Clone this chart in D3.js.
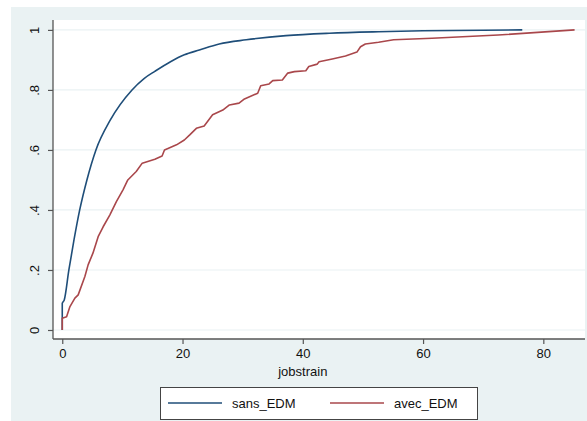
<!DOCTYPE html>
<html>
<head>
<meta charset="utf-8">
<script src="https://cdn.jsdelivr.net/npm/d3@7"></script>
<style>
  body { margin: 0; background: #fff; }
  svg { display: block; font-family: "Liberation Sans", Arial, sans-serif; }
</style>
</head>
<body>
<svg></svg>
<script>
// cumulative distribution of jobstrain
const sansX = [0, 0, 0.33, 1.1, 1.95, 2.9, 4.1, 5.6, 8.0, 11.6, 13.6, 15.4, 18.0, 20.3, 22.8, 26.1, 30.6, 37.2, 44.4, 52.6, 60, 70, 76.5];
const sansY = [0, 0.089, 0.10, 0.2, 0.3, 0.4, 0.5, 0.6, 0.7, 0.8, 0.838, 0.862, 0.894, 0.917, 0.933, 0.953, 0.967, 0.981, 0.989, 0.994, 0.997, 0.999, 1];

const avecX = [0, 0, 0.72, 1.28, 2.1, 2.65, 3.76, 4.3, 5.1, 5.97, 6.8, 7.9, 9.0, 10.1, 10.9, 12.3, 13.3, 15.4, 16.6, 17.0, 19.0, 20.3, 21.2, 22.3, 23.6, 25.0, 26.7, 27.8, 29.4, 30.3, 32.5, 33.0, 34.4, 35.0, 36.6, 37.5, 38.6, 40.5, 41.0, 42.4, 42.7, 44.9, 47.1, 49.0, 49.6, 50.4, 52.6, 55.1, 61.5, 72.5, 85.2];
const avecY = [0, 0.039, 0.044, 0.078, 0.106, 0.117, 0.178, 0.217, 0.256, 0.311, 0.344, 0.383, 0.428, 0.467, 0.5, 0.528, 0.556, 0.569, 0.58, 0.6, 0.617, 0.633, 0.65, 0.672, 0.68, 0.717, 0.733, 0.75, 0.756, 0.77, 0.789, 0.814, 0.82, 0.831, 0.833, 0.856, 0.861, 0.864, 0.878, 0.886, 0.894, 0.903, 0.913, 0.926, 0.944, 0.953, 0.959, 0.967, 0.972, 0.983, 1];

const xTicks = [0, 20, 40, 60, 80];
const yTicks = [0, 0.2, 0.4, 0.6, 0.8, 1];
const yTickLabels = ['0', '.2', '.4', '.6', '.8', '1'];
const seriesNames = ['sans_EDM', 'avec_EDM'];
const seriesColors = ['#1f4e79', '#a9474b'];

const W = 587, H = 421;
const plot = {l: 53, r: 585, t: 20, b: 339};
const svg = d3.select('svg').attr('width', W).attr('height', H);

// stata-ish outer background
svg.append('rect').attr('x', 11).attr('y', 7).attr('width', W - 11).attr('height', H - 7)
    .attr('fill', '#eaf2f3');
svg.append('rect').attr('x', plot.l).attr('y', plot.t)
    .attr('width', plot.r - plot.l).attr('height', plot.b - plot.t).attr('fill', '#fff');

const x = d3.scaleLinear().domain([-1.54, 86.93]).range([plot.l, plot.r]);
const y = d3.scaleLinear().domain([-0.03, 1.033]).range([plot.b, plot.t]);

// grid
svg.append('g').selectAll('line').data(yTicks).join('line')
    .attr('x1', plot.l).attr('x2', plot.r)
    .attr('y1', d => y(d)).attr('y2', d => y(d))
    .attr('stroke', '#eaf2f3').attr('stroke-width', 1.2);

// lines - the smooth one gets a monotone curve, the steppy one stays linear
const curves = [d3.curveMonotoneX, d3.curveLinear];
const series = [d3.zip(sansX, sansY), d3.zip(avecX, avecY)];
svg.append('g').attr('fill', 'none').selectAll('path').data(series).join('path')
    .attr('d', (d, i) => d3.line().curve(curves[i]).x(p => x(p[0])).y(p => y(p[1]))(d))
    .attr('stroke', (d, i) => seriesColors[i])
    .attr('stroke-width', 1.6)
    .attr('stroke-linejoin', 'round');

// axes
const xAxis = svg.append('g').attr('transform', `translate(0,${plot.b})`)
    .call(d3.axisBottom(x).tickValues(xTicks).tickSize(5).tickPadding(5).tickFormat(d3.format('d')));
const yAxis = svg.append('g').attr('transform', `translate(${plot.l},0)`)
    .call(d3.axisLeft(y).tickValues(yTicks).tickSize(5).tickPadding(9).tickFormat((d, i) => yTickLabels[i]));

[xAxis, yAxis].forEach(a => {
    a.select('.domain').attr('stroke', '#555').attr('stroke-width', 1.3)
        .attr('d', a === xAxis ? `M${plot.l},0H${plot.r}` : `M0,${plot.b}V${plot.t}`);
    a.selectAll('.tick line').attr('stroke', '#555').attr('stroke-width', 1.2);
    a.selectAll('text').attr('font-size', 13).attr('fill', '#111')
        .attr('font-family', '"Liberation Sans", Arial, sans-serif');
});
yAxis.selectAll('.tick text')
    .attr('text-anchor', 'middle').attr('dy', 0).attr('x', 0)
    .attr('transform', 'translate(-14,0) rotate(-90)');

svg.append('text').attr('x', x(40)).attr('y', 376).attr('text-anchor', 'middle')
    .attr('font-size', 13).attr('fill', '#111').text('jobstrain');

// legend
const legend = svg.append('g');
legend.append('rect').attr('x', 160.5).attr('y', 387.5).attr('width', 317).attr('height', 32)
    .attr('fill', '#fff').attr('stroke', '#444').attr('stroke-width', 1);
const lx = [168, 330];
seriesNames.forEach((name, i) => {
    legend.append('line').attr('x1', lx[i]).attr('x2', lx[i] + 54)
        .attr('y1', 403).attr('y2', 403)
        .attr('stroke', seriesColors[i]).attr('stroke-width', 1.3);
    legend.append('text').attr('x', lx[i] + 64).attr('y', 407.5)
        .attr('font-size', 13).attr('fill', '#111').text(name);
});
</script>
</body>
</html>
